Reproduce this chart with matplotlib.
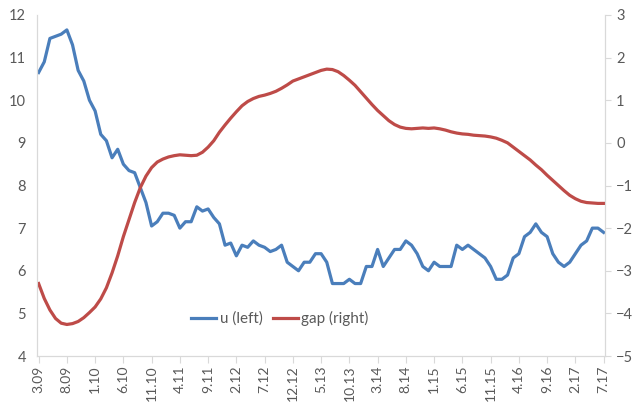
import matplotlib
matplotlib.use("Agg")
import matplotlib.pyplot as plt

# monthly data, 3.09 .. 7.17
labels = ["3.09", "8.09", "1.10", "6.10", "11.10", "4.11", "9.11", "2.12", "7.12",
          "12.12", "5.13", "10.13", "3.14", "8.14", "1.15", "6.15", "11.15", "4.16",
          "9.16", "2.17", "7.17"]

u = [10.65, 10.9, 11.45, 11.5, 11.55, 11.65, 11.3, 10.7, 10.45, 10.0,
     9.75, 9.2, 9.05, 8.65, 8.85, 8.5, 8.35, 8.3, 7.95, 7.6,
     7.05, 7.15, 7.35, 7.35, 7.3, 7.0, 7.15, 7.15, 7.5, 7.4,
     7.45, 7.25, 7.1, 6.6, 6.65, 6.35, 6.6, 6.55, 6.7, 6.6,
     6.55, 6.45, 6.5, 6.6, 6.2, 6.1, 6.0, 6.2, 6.2, 6.4,
     6.4, 6.2, 5.7, 5.7, 5.7, 5.8, 5.7, 5.7, 6.1, 6.1,
     6.5, 6.1, 6.3, 6.5, 6.5, 6.7, 6.6, 6.4, 6.1, 6.0,
     6.2, 6.1, 6.1, 6.1, 6.6, 6.5, 6.6, 6.5, 6.4, 6.3,
     6.1, 5.8, 5.8, 5.9, 6.3, 6.4, 6.8, 6.9, 7.1, 6.9,
     6.8, 6.4, 6.2, 6.1, 6.2, 6.4, 6.6, 6.7, 7.0, 7.0,
     6.9]

gap = [-3.30, -3.65, -3.92, -4.12, -4.23, -4.26, -4.24, -4.19, -4.10, -3.98,
       -3.85, -3.66, -3.40, -3.05, -2.65, -2.20, -1.80, -1.40, -1.05, -0.78,
       -0.58, -0.45, -0.38, -0.33, -0.30, -0.28, -0.29, -0.30, -0.29, -0.22,
       -0.10, 0.05, 0.25, 0.42, 0.58, 0.73, 0.87, 0.97, 1.04, 1.09,
       1.12, 1.16, 1.21, 1.28, 1.36, 1.45, 1.50, 1.55, 1.60, 1.65,
       1.70, 1.73, 1.72, 1.67, 1.58, 1.47, 1.35, 1.20, 1.05, 0.90,
       0.76, 0.64, 0.52, 0.43, 0.37, 0.34, 0.33, 0.34, 0.35, 0.34,
       0.35, 0.33, 0.30, 0.26, 0.23, 0.21, 0.20, 0.18, 0.17, 0.16,
       0.14, 0.11, 0.06, 0.00, -0.10, -0.20, -0.30, -0.40, -0.52, -0.63,
       -0.76, -0.88, -1.00, -1.12, -1.23, -1.31, -1.37, -1.40, -1.41, -1.42,
       -1.42]

plt.rcParams["font.family"] = ["Lato", "DejaVu Sans"]
txt = "#595959"
axcol = "#d9d9d9"

fig = plt.figure(figsize=(6.34, 4.03), dpi=100)
ax = fig.add_axes([0.0584, 0.1166, 0.8959, 0.8462])
ax2 = ax.twinx()

x = list(range(len(u)))
l1, = ax.plot(x, u, color="#4a7ebb", lw=2.3, label="u (left)", solid_joinstyle="round")
l2, = ax2.plot(x, gap, color="#be4b48", lw=2.3, label="gap (right)", solid_joinstyle="round")

ax.set_xlim(-0.28, 100.25)
ax.set_ylim(4, 12)
ax2.set_ylim(-5, 3)
ax.set_xticks(range(0, 101, 5))
ax.set_xticklabels(labels, rotation=90)
ax.set_yticks(range(4, 13))
ax2.set_yticks(range(-5, 4))

for a in (ax, ax2):
    for s in a.spines.values():
        s.set_color(axcol)
    a.spines["top"].set_visible(False)
ax.tick_params(axis="x", colors=axcol, labelcolor=txt, labelsize=10, length=5, pad=2)
ax.tick_params(axis="y", length=0, labelcolor=txt, labelsize=10.5, pad=8)
ax2.tick_params(axis="y", colors=axcol, labelcolor=txt, labelsize=10.5, length=4, pad=4)

ax.legend(handles=[l1, l2], loc="center", bbox_to_anchor=(0.428, 0.11), ncol=2,
          frameon=False, fontsize=11, labelcolor=txt, handlelength=1.6,
          handletextpad=0.25, columnspacing=0.7)

fig.savefig("out.png", dpi=100)
